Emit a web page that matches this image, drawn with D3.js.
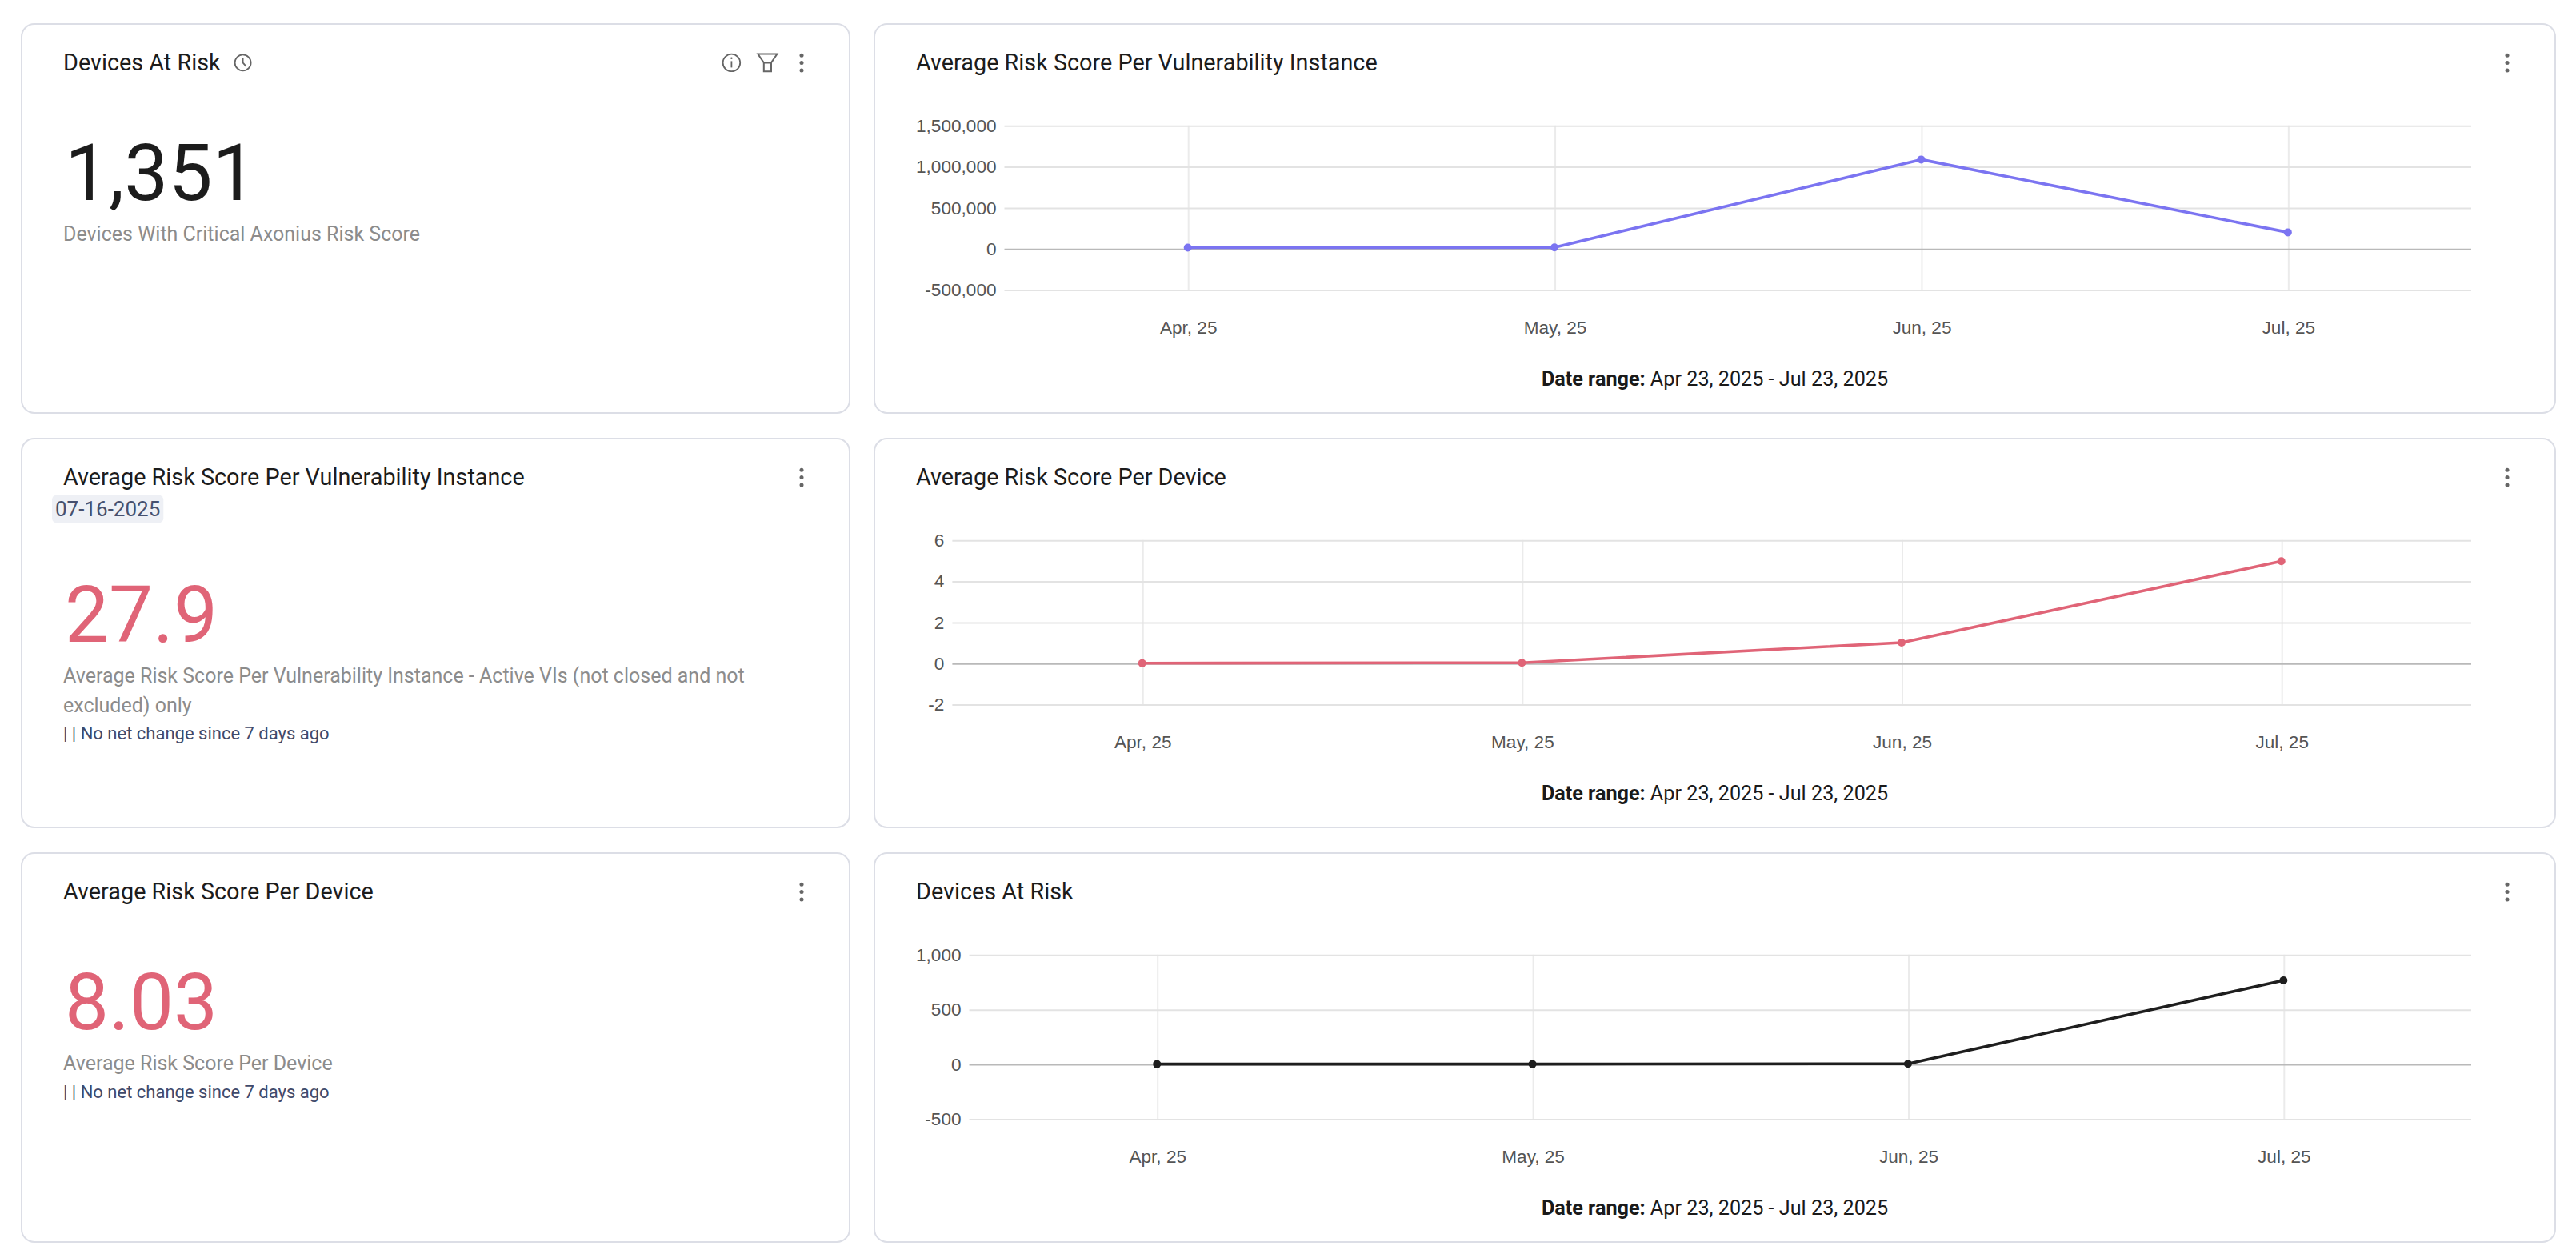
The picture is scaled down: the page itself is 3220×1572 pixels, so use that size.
<!DOCTYPE html>
<html>
<head>
<meta charset="utf-8">
<title>Risk Dashboard</title>
<script src="https://d3js.org/d3.v7.min.js"></script>
<style>
  html, body { margin: 0; padding: 0; background: #fff; }
  svg { display: block; font-family: Roboto, "Noto Sans", sans-serif; }
</style>
</head>
<body>
<div id="board"></div>
<script>
/*
** Data
*/
var months = ["Apr, 25", "May, 25", "Jun, 25", "Jul, 25"];

var vulnInstanceScores = [12000, 14000, 1085000, 198000];
var vulnInstanceTicks  = [-500000, 0, 500000, 1000000, 1500000];

var deviceScores     = [0, 0.02, 1, 4.97];
var deviceScoreTicks = [-2, 0, 2, 4, 6];

var devicesAtRisk      = [0, 0, 3, 765];
var devicesAtRiskTicks = [-500, 0, 500, 1000];

var dateRange = "Apr 23, 2025 - Jul 23, 2025";

var kpiTitles   = ["Devices At Risk", "Average Risk Score Per Vulnerability Instance", "Average Risk Score Per Device"];
var kpiValues   = [1351, 27.9, 8.03];
var kpiCaptions = [
    "Devices With Critical Axonius Risk Score",
    "Average Risk Score Per Vulnerability Instance - Active VIs (not closed and not excluded) only",
    "Average Risk Score Per Device"
];
var kpiNotes = [null, "| | No net change since 7 days ago", "| | No net change since 7 days ago"];
var kpiDates = [null, "07-16-2025", null];

/*
** Shared bits
*/
var W = 1610, H = 786;
var pink = "#e06477";
// plain hyphen for negatives, like the dashboard
var fmt = d3.formatLocale({ decimal: ".", thousands: ",", grouping: [3], currency: ["$", ""], minus: "-" }).format(",");

function cardFrame(g, w, h, title){
    g.append("rect")
        .attr("x", 0).attr("y", 0)
        .attr("width", w).attr("height", h)
        .attr("rx", 8).attr("ry", 8)
        .attr("fill", "#fff")
        .attr("stroke", "#dcdee6")
        .attr("stroke-width", 1)
    ;
    var t = g.append("text")
        .attr("x", 26).attr("y", 29)
        .attr("font-size", 14.4)
        .attr("fill", "#1c1c1c")
        .text(title)
    ;
    g.append("g")
        .attr("transform", "translate(" + (w - 30) + ",24.3)")
      .selectAll("circle")
        .data([-4.7, 0, 4.7])
      .enter().append("circle")
        .attr("cy", function(d){ return d; })
        .attr("r", 1.25)
        .attr("fill", "#666")
    ;
    return t;
}

function wrap(text, width, lineHeight){
    text.each(function(){
        var self = d3.select(this)
          , words = self.text().split(/\s+/)
          , x = self.attr("x")
          , line = []
          , tspan = self.text(null).append("tspan").attr("x", x).attr("dy", 0)
          , n = 0
        ;
        words.forEach(function(word){
            line.push(word);
            tspan.text(line.join(" "));
            if(tspan.node().getComputedTextLength() > width && line.length > 1){
                line.pop();
                tspan.text(line.join(" "));
                line = [word];
                n++;
                tspan = self.append("tspan").attr("x", x).attr("dy", lineHeight).text(word);
            }
        });
        self.property("lines", n + 1);
    });
}

/*
** Line chart card
*/
function LineCard(){
    var width, height, title, labels, values, ticks, color;

    function my(g){
        cardFrame(g, width, height, title);

        var top = 63.4, bottom = 166, right = width - 52.5;
        var y = d3.scaleLinear()
            .domain([ticks[0], ticks[ticks.length - 1]])
            .range([bottom, top])
        ;

        // measure the widest y label to place the plot's left edge
        var yg = g.append("g").attr("class", "y-axis");
        yg.call(d3.axisLeft(y).tickValues(ticks).tickFormat(fmt));
        yg.selectAll("text").attr("font-size", 11.3).attr("font-family", null);
        var labelW = d3.max(yg.selectAll("text").nodes(), function(n){ return n.getComputedTextLength(); });
        var left = 26 + Math.max(labelW, 17.7) + 5;

        var x = d3.scalePoint()
            .domain(labels)
            .range([left, right])
            .padding(0.5)
        ;

        // vertical grid + month labels
        var xg = g.insert("g", ".y-axis")
            .attr("transform", "translate(0," + bottom + ")")
            .call(d3.axisBottom(x).tickSize(-(bottom - top)).tickPadding(19.5))
        ;
        xg.select(".domain").remove();
        xg.selectAll("line").attr("stroke", "#ebebeb");
        xg.selectAll("text")
            .attr("font-size", 11.3)
            .attr("font-family", null)
            .attr("fill", "#555")
        ;

        // horizontal grid + value labels
        yg.attr("transform", "translate(" + left + ",0)")
            .call(d3.axisLeft(y).tickValues(ticks).tickFormat(fmt)
                .tickSize(-(right - left)).tickPadding(5))
        ;
        yg.select(".domain").remove();
        yg.selectAll("line")
            .attr("stroke", function(d){ return d === 0 ? "#b9b9b9" : "#e3e3e3"; })
        ;
        yg.selectAll("text")
            .attr("font-size", 11.3)
            .attr("font-family", null)
            .attr("fill", "#555")
        ;

        var line = d3.line()
            .x(function(d, i){ return x(labels[i]); })
            .y(function(d){ return y(d); })
        ;
        g.append("path")
            .datum(values)
            .attr("d", line)
            .attr("fill", "none")
            .attr("stroke", color)
            .attr("stroke-width", 1.8)
            .attr("stroke-linejoin", "round")
        ;
        g.selectAll("circle.pt")
            .data(values)
          .enter().append("circle")
            .attr("class", "pt")
            .attr("cx", function(d, i){ return x(labels[i]); })
            .attr("cy", function(d){ return y(d); })
            .attr("r", 2.5)
            .attr("fill", color)
        ;

        var dr = g.append("text")
            .attr("x", width / 2)
            .attr("y", 226)
            .attr("text-anchor", "middle")
            .attr("font-size", 12.6)
            .attr("fill", "#1a1a1a")
        ;
        dr.append("tspan").attr("font-weight", 700).text("Date range:");
        dr.append("tspan").text(" " + dateRange);
    } // my()

    my.width  = function(v){ if(!arguments.length) return width;  width = v;  return my; };
    my.height = function(v){ if(!arguments.length) return height; height = v; return my; };
    my.title  = function(v){ if(!arguments.length) return title;  title = v;  return my; };
    my.labels = function(v){ if(!arguments.length) return labels; labels = v; return my; };
    my.values = function(v){ if(!arguments.length) return values; values = v; return my; };
    my.ticks  = function(v){ if(!arguments.length) return ticks;  ticks = v;  return my; };
    my.color  = function(v){ if(!arguments.length) return color;  color = v;  return my; };

    return my;
}

/*
** Single-number card
*/
function KpiCard(){
    var width, height, title, value, caption, note, date, color, tools = false;

    function my(g){
        var t = cardFrame(g, width, height, title);

        if(tools){
            var iy = 24.2;
            var tx = 26 + t.node().getComputedTextLength() + 14;
            var clock = g.append("g")
                .attr("transform", "translate(" + tx + "," + iy + ")")
                .attr("fill", "none").attr("stroke", "#666").attr("stroke-width", 0.9)
            ;
            clock.append("circle").attr("r", 5);
            clock.append("path").attr("d", "M0,-3 L0,0 L2,2.2");

            var info = g.append("g")
                .attr("transform", "translate(" + (width - 73.8) + "," + iy + ")")
            ;
            info.append("circle").attr("r", 5.4)
                .attr("fill", "none").attr("stroke", "#666").attr("stroke-width", 0.9);
            info.append("line").attr("y1", -1).attr("y2", 3)
                .attr("stroke", "#666").attr("stroke-width", 0.9);
            info.append("circle").attr("cy", -2.8).attr("r", 0.6).attr("fill", "#666");

            g.append("path")
                .attr("transform", "translate(" + (width - 51.3) + "," + iy + ")")
                .attr("d", "M-6,-5.4 L6,-5.4 L2.3,0 L2.3,5.4 L-2.3,5.4 L-2.3,0 Z M-2.3,0 L2.3,0")
                .attr("fill", "none").attr("stroke", "#666").attr("stroke-width", 1)
            ;
        }

        var base = 110.2;
        if(date){
            var chip = g.append("g");
            var ct = chip.append("text")
                .attr("x", 21).attr("y", 48.3)
                .attr("font-size", 13)
                .attr("fill", "#46506e")
                .text(date)
            ;
            chip.insert("rect", "text")
                .attr("x", 19).attr("y", 35.2)
                .attr("width", ct.node().getComputedTextLength() + 4)
                .attr("height", 17.5)
                .attr("rx", 3)
                .attr("fill", "#eef0f5")
            ;
            base += 16.7;
        }

        g.append("text")
            .attr("x", 27).attr("y", base)
            .attr("font-size", 49)
            .attr("fill", color)
            .text(fmt(value))
        ;

        var cap = g.append("text")
            .attr("x", 26).attr("y", base + 25.5)
            .attr("font-size", 12.5)
            .attr("fill", "#8c8c8c")
            .text(caption)
            .call(wrap, width - 52, 18.4)
        ;
        var lines = cap.property("lines");

        if(note){
            g.append("text")
                .attr("x", 26).attr("y", base + 25.5 + (lines - 1) * 18.4 + 17.4)
                .attr("font-size", 11)
                .attr("fill", "#3f4a6b")
                .text(note)
            ;
        }
    } // my()

    my.width   = function(v){ if(!arguments.length) return width;   width = v;   return my; };
    my.height  = function(v){ if(!arguments.length) return height;  height = v;  return my; };
    my.title   = function(v){ if(!arguments.length) return title;   title = v;   return my; };
    my.value   = function(v){ if(!arguments.length) return value;   value = v;   return my; };
    my.caption = function(v){ if(!arguments.length) return caption; caption = v; return my; };
    my.note    = function(v){ if(!arguments.length) return note;    note = v;    return my; };
    my.date    = function(v){ if(!arguments.length) return date;    date = v;    return my; };
    my.color   = function(v){ if(!arguments.length) return color;   color = v;   return my; };
    my.tools   = function(v){ if(!arguments.length) return tools;   tools = v;   return my; };

    return my;
}

/*
** Layout
*/
var svg = d3.select("#board").append("svg")
    .attr("width", W * 2)
    .attr("height", H * 2)
    .attr("viewBox", "0 0 " + W + " " + H)
;

var colX = [13.5, 546.5], colW = [517.5, 1050.5];
var rowY = [15, 274, 533], cardH = 243;

var kpiColors = ["#1c1c1c", pink, pink];
kpiTitles.forEach(function(t, i){
    var card = KpiCard()
        .width(colW[0]).height(cardH)
        .title(t)
        .value(kpiValues[i])
        .caption(kpiCaptions[i])
        .note(kpiNotes[i])
        .date(kpiDates[i])
        .color(kpiColors[i])
        .tools(i === 0)
    ;
    svg.append("g")
        .attr("transform", "translate(" + colX[0] + "," + rowY[i] + ")")
        .call(card)
    ;
});

var charts = [
    { title: "Average Risk Score Per Vulnerability Instance", values: vulnInstanceScores, ticks: vulnInstanceTicks, color: "#7b74f1" },
    { title: "Average Risk Score Per Device", values: deviceScores, ticks: deviceScoreTicks, color: pink },
    { title: "Devices At Risk", values: devicesAtRisk, ticks: devicesAtRiskTicks, color: "#1e1e1e" }
];
charts.forEach(function(c, i){
    var chart = LineCard()
        .width(colW[1]).height(cardH)
        .title(c.title)
        .labels(months)
        .values(c.values)
        .ticks(c.ticks)
        .color(c.color)
    ;
    svg.append("g")
        .attr("transform", "translate(" + colX[1] + "," + rowY[i] + ")")
        .call(chart)
    ;
});
</script>
</body>
</html>
